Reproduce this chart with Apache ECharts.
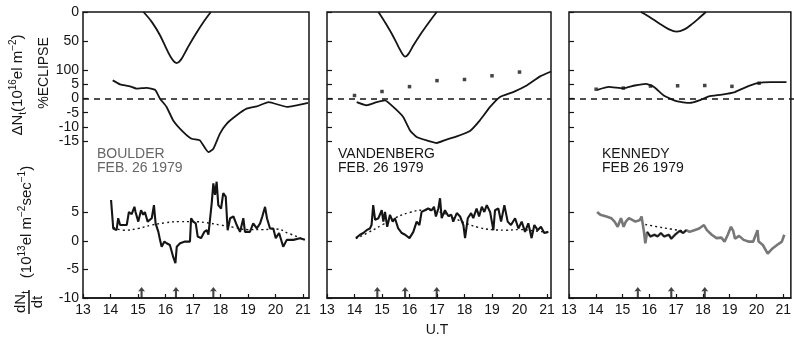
<!DOCTYPE html>
<html>
<head>
<meta charset="utf-8">
<script src="https://cdn.jsdelivr.net/npm/echarts@6/dist/echarts.min.js"></script>
<style>
html, body { margin: 0; padding: 0; background: #fff; }
#chart { width: 794px; height: 339px; }
</style>
</head>
<body>
<div id="chart"></div>
<script>
const hours = [13, 14, 15, 16, 17, 18, 19, 20, 21];
const eclipseTicks = [0, 50, 100];
const deltaTicks = [5, 0, -5, -10, -15];
const rateTicks = [5, 0, -5, -10];

// Boulder
const boulderEclipse = [[15.2,0],[15.5,17],[15.8,40],[16.05,65],[16.25,82],[16.4,88],[16.55,83],[16.8,62],[17.1,38],[17.4,16],[17.65,0]];
const boulderDelta = [[14.08,6.3],[14.35,4.9],[14.71,4.2],[14.95,3.4],[15.32,3.7],[15.62,3.0],[15.8,-0.1],[16.04,-3.0],[16.28,-7.7],[16.65,-11.8],[16.95,-14.1],[17.25,-14.7],[17.56,-18.8],[17.74,-17.6],[17.98,-12.3],[18.23,-8.8],[18.59,-5.9],[18.95,-3.6],[19.32,-2.8],[19.75,-1.3],[20.42,-3.0],[21.18,-1.6]];
const boulderRate = [[14.02,7.2],[14.1,2.2],[14.22,1.9],[14.28,4.0],[14.35,2.8],[14.41,2.5],[14.59,2.8],[14.67,5.1],[14.77,4.7],[14.87,6.0],[14.91,5.1],[15.01,3.4],[15.11,5.4],[15.19,4.6],[15.25,5.1],[15.35,3.4],[15.5,4.0],[15.58,6.3],[15.64,3.1],[15.74,1.6],[15.8,0.2],[15.86,-1.0],[15.96,-0.1],[16.04,-0.4],[16.16,-0.7],[16.28,-2.8],[16.36,-3.9],[16.41,-1.0],[16.53,-0.4],[16.71,-0.1],[16.89,-0.1],[16.93,4.0],[17.01,3.4],[17.1,3.1],[17.17,0.8],[17.29,0.5],[17.41,1.6],[17.5,1.9],[17.56,1.1],[17.68,6.6],[17.74,10.1],[17.8,8.1],[17.86,10.4],[17.92,6.3],[18.02,5.7],[18.1,8.4],[18.19,7.8],[18.26,1.9],[18.35,4.0],[18.47,4.3],[18.59,2.8],[18.71,1.6],[18.83,4.0],[18.89,1.6],[19.07,1.6],[19.19,3.1],[19.32,2.2],[19.44,3.1],[19.52,4.3],[19.62,6.0],[19.69,4.0],[19.8,2.2],[19.92,2.2],[20.01,0.5],[20.13,1.4],[20.28,-1.0],[20.41,0.2],[20.65,0.2],[20.89,0.5],[21.07,0.2]];
const boulderRateTrend = [[14.1,2.4],[14.5,1.9],[15,2.2],[15.5,2.8],[16,3.2],[16.5,3.4],[17,3.4],[17.5,3.2],[18,2.8],[18.5,2.4],[19,2.0],[19.5,2.0],[20,2.1],[20.5,1.3],[21,0.3]];
const boulderArrows = [15.13, 16.38, 17.74];

// Vandenberg
const vandenbergEclipse = [[14.87,0],[15.1,17],[15.35,37],[15.6,60],[15.75,73],[15.84,77],[15.95,73],[16.15,57],[16.45,35],[16.75,15],[16.99,0]];
const vandenbergDelta = [[14.08,-1.3],[14.44,-2.4],[14.81,-1.3],[15.11,-0.7],[15.41,-3.0],[15.77,-6.5],[16.02,-11.2],[16.26,-13.5],[16.63,-14.7],[16.99,-15.6],[17.35,-14.4],[17.72,-13.3],[18.2,-11.4],[18.56,-7.7],[18.93,-3.0],[19.29,0.5],[19.77,2.2],[20.26,4.5],[20.75,7.7],[21.15,9.4]];
const vandenbergDots = [[14,1.0],[15,2.4],[16,4.1],[17,6.2],[18,6.6],[19,7.9],[20,9.2]];
const vandenbergRate = [[14.05,0.5],[14.2,1.1],[14.32,1.4],[14.44,1.9],[14.56,2.2],[14.62,2.8],[14.68,6.3],[14.75,3.7],[14.87,4.0],[14.99,5.4],[15.05,3.4],[15.11,5.1],[15.19,2.5],[15.29,4.6],[15.39,3.4],[15.47,4.0],[15.59,2.2],[15.72,1.4],[15.84,1.1],[16.0,0.5],[16.14,1.6],[16.26,3.4],[16.36,2.8],[16.44,5.1],[16.56,5.4],[16.68,5.7],[16.81,5.4],[16.89,6.0],[16.96,4.3],[17.05,5.7],[17.11,7.5],[17.17,4.0],[17.29,5.4],[17.41,4.4],[17.52,4.6],[17.59,3.4],[17.72,4.9],[17.84,4.3],[17.96,2.8],[18.02,0.5],[18.12,4.0],[18.24,4.9],[18.32,4.0],[18.44,5.7],[18.53,4.3],[18.63,6.0],[18.72,5.1],[18.81,6.3],[18.93,5.1],[19.05,1.9],[19.11,5.4],[19.23,5.7],[19.33,3.4],[19.45,6.3],[19.57,3.4],[19.69,2.8],[19.84,4.0],[19.96,2.2],[20.08,3.4],[20.2,1.6],[20.32,3.1],[20.44,0.5],[20.54,2.8],[20.66,1.9],[20.78,2.5],[20.9,1.4],[21.05,1.6]];
const vandenbergRateTrend = [[14.05,0.4],[14.5,1.5],[15,2.8],[15.5,4.1],[16,5.0],[16.5,5.4],[17,5.2],[17.5,4.3],[18,3.2],[18.5,2.4],[19,2.0],[19.5,1.9],[20,2.0],[20.5,1.8],[21,1.5]];
const vandenbergArrows = [14.83, 15.84, 16.99];

// Kennedy
const kennedyEclipse = [[15.65,0],[15.95,8],[16.3,19],[16.65,29],[16.96,34],[17.25,30],[17.55,20],[17.8,10],[18.04,0]];
const kennedyDelta = [[14.05,3.0],[14.46,4.0],[15.0,3.5],[15.42,4.5],[15.83,5.1],[16.13,4.0],[16.49,1.0],[16.96,-1.0],[17.44,-1.6],[17.8,-0.7],[18.15,0.7],[18.63,1.3],[19.11,2.2],[19.46,3.7],[19.94,5.3],[20.42,5.7],[21.01,5.7]];
const kennedyDots = [[14,3.2],[15,3.6],[16,4.3],[17,4.4],[18,4.5],[19,4.2],[20,5.3]];
const kennedyRate = [[14.05,5.1],[14.17,4.6],[14.4,4.3],[14.58,4.0],[14.7,3.4],[14.82,2.5],[14.94,4.0],[15.04,2.5],[15.12,3.4],[15.24,4.0],[15.36,3.7],[15.48,3.4],[15.65,3.7],[15.71,4.3],[15.8,1.6],[15.85,-0.4],[15.92,1.6],[16.04,0.8],[16.19,1.1],[16.31,0.8],[16.43,1.4],[16.55,0.8],[16.73,1.1],[16.82,0.4],[16.96,1.1],[17.14,1.8],[17.26,1.4],[17.38,1.9],[17.5,1.6],[17.68,1.9],[17.86,2.2],[18.04,2.8],[18.15,1.9],[18.33,1.1],[18.51,0.5],[18.69,0.6],[18.81,-0.1],[18.93,1.1],[19.05,2.5],[19.13,1.8],[19.2,0.4],[19.35,0.9],[19.52,0.2],[19.7,-0.1],[19.88,-0.1],[20.04,1.9],[20.08,-0.1],[20.24,-0.7],[20.42,-2.2],[20.6,-1.3],[20.77,-0.7],[20.95,-0.1],[21.04,1.1]];
const kennedyRateTrend = [[15.85,2.9],[16.3,2.5],[16.8,2.1],[17.35,1.7]];
const kennedyArrows = [15.57, 16.82, 18.07];

const ink = '#151515';
const numFont = '"Liberation Sans", Arial, sans-serif';

const panels = [
    { name: 'BOULDER', date: 'FEB. 26 1979', labelColor: '#666', left: 83, width: 226, hour: 27.5,
      eclipse: boulderEclipse, delta: boulderDelta, dots: null, rate: boulderRate, trend: boulderRateTrend, arrows: boulderArrows, rateColor: ink },
    { name: 'VANDENBERG', date: 'FEB. 26 1979', labelColor: ink, left: 327, width: 224, hour: 27.5,
      eclipse: vandenbergEclipse, delta: vandenbergDelta, dots: vandenbergDots, rate: vandenbergRate, trend: vandenbergRateTrend, arrows: vandenbergArrows, rateColor: ink },
    { name: 'KENNEDY', date: 'FEB 26 1979', labelColor: ink, left: 569, width: 232, hour: 28,
      eclipse: kennedyEclipse, delta: kennedyDelta, dots: kennedyDots, rate: kennedyRate, trend: kennedyRateTrend, arrows: kennedyArrows, rateColor: '#777' }
];

// overlaid scales per panel: % eclipse (downward), delta Nt, dNt/dt,
// then extra delta Nt axes that only carry labels (crowded labels get
// thinned out when they share one axis)
const scales = [
    { min: 0, max: 493, inverse: true, ticks: eclipseTicks, labels: eclipseTicks },
    { min: -69.8, max: 30.2, inverse: false, ticks: deltaTicks, labels: [-5, -15] },
    { min: -10, max: 40.18, inverse: false, ticks: rateTicks, labels: rateTicks },
    { min: -69.8, max: 30.2, inverse: false, ticks: [], labels: [0, -10] },
    { min: -69.8, max: 30.2, inverse: false, ticks: [], labels: [5] }
];
const nScales = scales.length;

const gridTop = 12;
const gridHeight = 286;

const grids = [];
const xAxes = [];
const yAxes = [];
const series = [];
const graphics = [];

const arrowPath = 'path://M3,0 L6,5 L3.9,4.3 L3.9,12 L2.1,12 L2.1,4.3 L0,5 Z';

panels.forEach((p, i) => {
    const max = 13 + p.width / p.hour;
    scales.forEach((s, k) => {
        const g = nScales * i + k;
        const main = k === 2;
        grids.push({
            left: p.left, top: gridTop, width: p.width, height: gridHeight,
            show: main, borderColor: ink, borderWidth: 1.5, backgroundColor: 'transparent'
        });
        xAxes.push({
            gridIndex: g, type: 'value', min: 13, max: max, show: main,
            axisLine: { show: true, onZero: false, lineStyle: { color: ink, width: 1.5 } },
            axisTick: { inside: true, length: 4, customValues: hours, lineStyle: { color: ink, width: 1.2 } },
            axisLabel: { customValues: hours, margin: 5, fontSize: 14, color: ink, fontFamily: numFont },
            splitLine: { show: false }
        });
        yAxes.push({
            gridIndex: g, type: 'value', position: 'left',
            min: s.min, max: s.max, inverse: s.inverse,
            axisLine: { show: false, onZero: false }, splitLine: { show: false },
            axisTick: { show: s.ticks.length > 0, inside: true, length: 5, customValues: s.ticks, lineStyle: { color: ink, width: 1.2 } },
            axisLabel: {
                show: i === 0, customValues: s.labels, margin: 4, fontSize: 14, lineHeight: 10,
                color: ink, fontFamily: numFont, hideOverlap: false,
                showMinLabel: true, showMaxLabel: true
            }
        });
    });

    const gE = nScales * i, gD = nScales * i + 1, gR = nScales * i + 2;

    series.push({
        type: 'line', xAxisIndex: gE, yAxisIndex: gE, data: p.eclipse,
        showSymbol: false, smooth: 0.35, lineStyle: { color: ink, width: 1.8 }
    });
    series.push({
        type: 'line', xAxisIndex: gD, yAxisIndex: gD, data: p.delta,
        showSymbol: false, smooth: 0.15, lineStyle: { color: ink, width: 1.8 },
        markLine: {
            silent: true, symbol: 'none', label: { show: false },
            lineStyle: { type: [6, 5], color: ink, width: 1.5 },
            data: [{ yAxis: 0 }]
        }
    });
    if (p.dots) {
        series.push({
            type: 'scatter', xAxisIndex: gD, yAxisIndex: gD, data: p.dots,
            symbol: 'rect', symbolSize: 3.5, itemStyle: { color: ink }
        });
    }
    series.push({
        type: 'line', xAxisIndex: gR, yAxisIndex: gR, data: p.rate,
        showSymbol: false, lineStyle: { color: p.rateColor, width: i === 2 ? 2.6 : 2.1 }
    });
    if (i === 2) {
        // the darker stretch of the Kennedy trace
        series.push({
            type: 'line', xAxisIndex: gR, yAxisIndex: gR,
            data: p.rate.filter(d => d[0] >= 15.9 && d[0] <= 17.4),
            showSymbol: false, lineStyle: { color: ink, width: 1.6 }
        });
    }
    series.push({
        type: 'line', xAxisIndex: gR, yAxisIndex: gR, data: p.trend,
        showSymbol: false, smooth: true,
        lineStyle: { color: ink, width: 1.4, type: [2, 3] }
    });
    series.push({
        type: 'scatter', xAxisIndex: gR, yAxisIndex: gR,
        data: p.arrows.map(t => [t, -10]),
        symbol: arrowPath, symbolSize: [7, 11], symbolOffset: [0, -5.5],
        itemStyle: { color: ink }
    });

    const tx = p.left + (i === 0 ? 14 : i === 1 ? 11 : 33);
    graphics.push({
        type: 'text', x: tx, y: 154,
        style: { text: p.name, font: '14px ' + numFont, fill: p.labelColor, verticalAlign: 'middle' }
    });
    graphics.push({
        type: 'text', x: tx, y: 168,
        style: { text: p.date, font: '14px ' + numFont, fill: p.labelColor, verticalAlign: 'middle' }
    });
});

const richBase = {
    m: { fontSize: 15, fontFamily: numFont, fill: ink, lineHeight: 20, verticalAlign: 'middle' },
    u: { fontSize: 10, fontFamily: numFont, fill: ink, lineHeight: 20, verticalAlign: 'top' },
    b: { fontSize: 10, fontFamily: numFont, fill: ink, lineHeight: 20, verticalAlign: 'bottom' }
};

graphics.push({
    type: 'text', x: 18, y: 85, rotation: Math.PI / 2,
    style: {
        text: '{m|ΔN}{b|t}{m|(10}{u|16}{m|el m}{u|−2}{m|)}',
        rich: richBase, align: 'center', verticalAlign: 'middle'
    }
});
graphics.push({
    type: 'text', x: 44, y: 73, rotation: Math.PI / 2,
    style: { text: '%ECLIPSE', font: '14px ' + numFont, fill: ink, align: 'center', verticalAlign: 'middle' }
});
graphics.push({
    type: 'text', x: 27, y: 222, rotation: Math.PI / 2,
    style: {
        text: '{m|(10}{u|13}{m|el m}{u|−2}{m|sec}{u|−1}{m|)}',
        rich: richBase, align: 'center', verticalAlign: 'middle'
    }
});
graphics.push({
    type: 'group', x: 29, y: 302, rotation: Math.PI / 2,
    children: [
        { type: 'text', x: 0, y: -8, style: { text: '{m|dN}{b|t}', rich: richBase, align: 'center', verticalAlign: 'middle' } },
        { type: 'line', shape: { x1: -12, y1: 0, x2: 12, y2: 0 }, style: { stroke: ink, lineWidth: 1.5 } },
        { type: 'text', x: 0, y: 9, style: { text: 'dt', font: '15px ' + numFont, fill: ink, align: 'center', verticalAlign: 'middle' } }
    ]
});
graphics.push({
    type: 'text', x: 437, y: 330,
    style: { text: 'U.T', font: '14px ' + numFont, fill: ink, align: 'center', verticalAlign: 'middle' }
});

const myChart = echarts.init(document.getElementById('chart'));
myChart.setOption({
    animation: false,
    backgroundColor: '#fff',
    grid: grids,
    xAxis: xAxes,
    yAxis: yAxes,
    series: series,
    graphic: graphics
});
</script>
</body>
</html>
